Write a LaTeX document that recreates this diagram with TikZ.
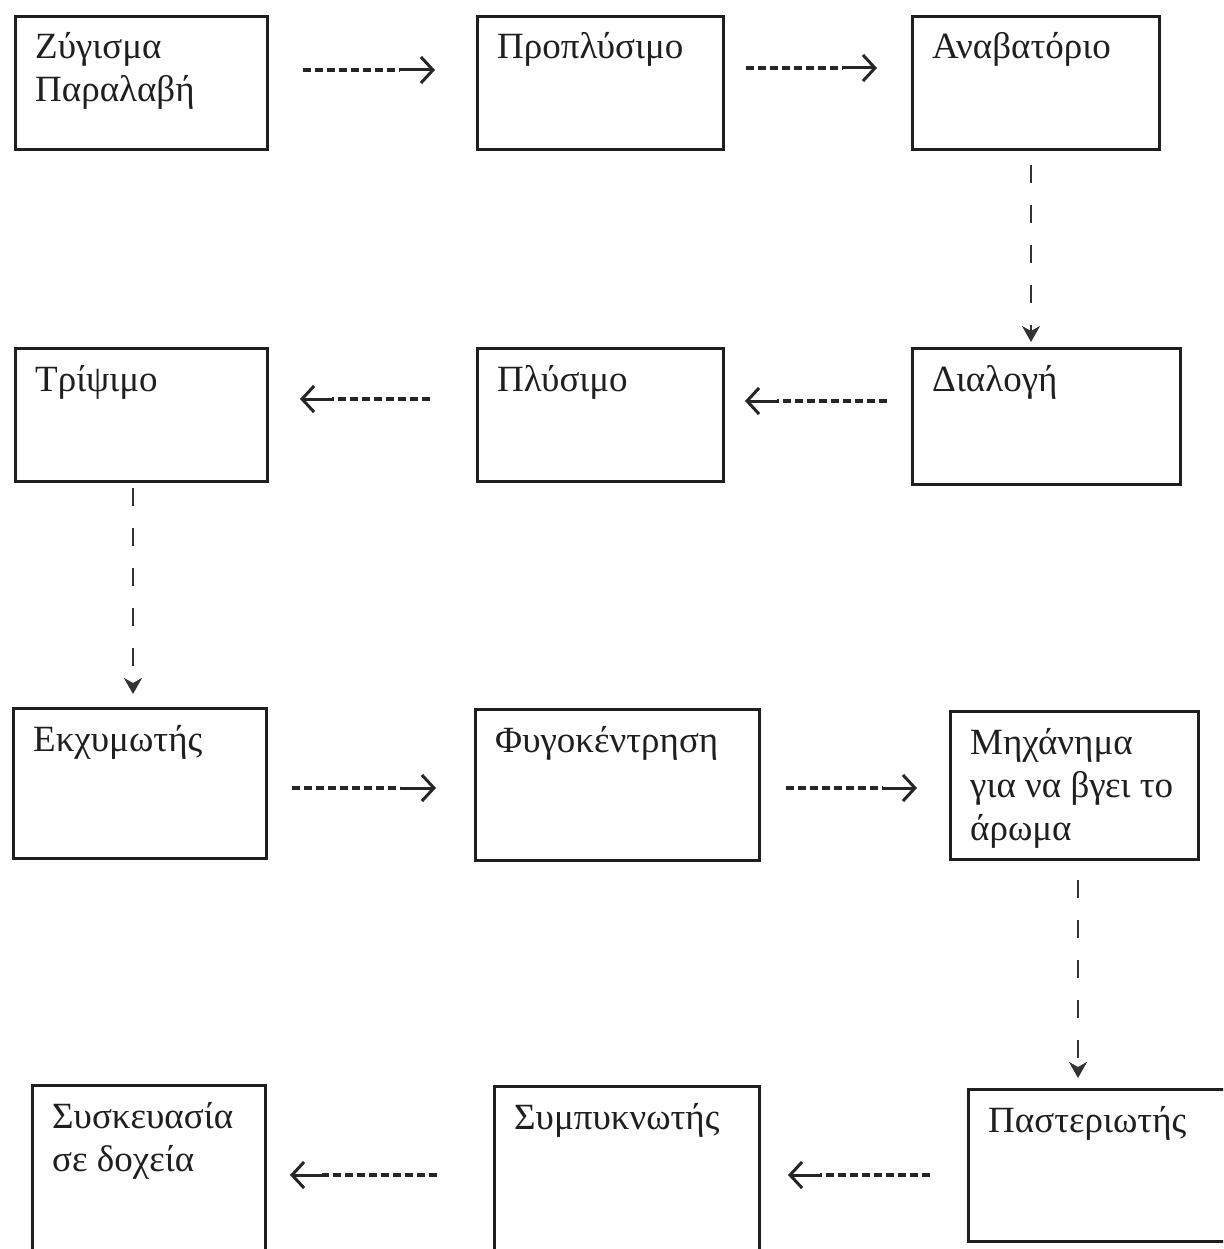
\documentclass[tikz,border=0pt]{standalone}
\usepackage{fontspec}
\setmainfont{Liberation Serif}
\usetikzlibrary{arrows.meta}
\tikzset{
  box/.style={draw=black!88, line width=2.8pt, rectangle, inner sep=0pt, anchor=north west},
  lbl/.style={anchor=base west, inner sep=0pt, text=black!88,
    font=\fontsize{37}{43}\selectfont},
  hdash/.style={draw=black!85, line width=3.6pt, dash pattern=on 8pt off 4pt},
  hhead/.style={draw=black!85, line width=3pt, -{Straight Barb[length=12pt,width=26pt]}},
  vdash/.style={draw=black!80, line width=2.2pt, dash pattern=on 18pt off 22pt,
    -{Stealth[length=16pt,width=18pt,inset=5pt]}},
}
\newcommand{\mybox}[6]{% name, x1, y1, x2, y2, text
  \node[box, minimum width=#4pt-#2pt, minimum height=#5pt-#3pt] (#1) at (#2,#3) {};
  \node[lbl] (#1t) at ([shift={(21pt,-44pt)}]#1.north west)
    {\parbox[t]{300pt}{\raggedright #6}};
}
\begin{document}
\begin{tikzpicture}[x=1pt,y=-1pt]
\useasboundingbox[fill=white] (0,0) rectangle (1223,1249);
\clip (0,0) rectangle (1223,1249);
% row 1
\mybox{b1}{14}{15}{266}{148}{Ζύγισμα\\Παραλαβή}
\mybox{b2}{476}{15}{722}{148}{Προπλύσιμο}
\mybox{b3}{911}{15}{1158}{148}{Αναβατόριο}
% row 2
\mybox{b6}{14}{347}{266}{480}{Τρίψιμο}
\mybox{b5}{476}{347}{722}{480}{Πλύσιμο}
\mybox{b4}{911}{347}{1179}{483}{Διαλογή}
% row 3
\mybox{b7}{12}{707}{265}{857}{Εκχυμωτής}
\mybox{b8}{474}{708}{758}{859}{Φυγοκέντρηση}
\mybox{b9}{949}{710}{1197}{858}{Μηχάνημα\\για να βγει το\\άρωμα}
% row 4
\mybox{b12}{31}{1084}{264}{1300}{Συσκευασία\\σε δοχεία}
\mybox{b11}{493}{1085}{758}{1300}{Συμπυκνωτής}
\mybox{b10}{967}{1088}{1240}{1240}{Παστεριωτής}

% horizontal arrow coordinates
\coordinate (h1s) at (303,70);  \coordinate (h1m) at (400,70);  \coordinate (h1e) at (435,70);
\coordinate (h2s) at (746,68);  \coordinate (h2m) at (843,68);  \coordinate (h2e) at (877,68);
\coordinate (h3s) at (430,399); \coordinate (h3m) at (332,399); \coordinate (h3e) at (300,399);
\coordinate (h4s) at (887,401); \coordinate (h4m) at (777,401); \coordinate (h4e) at (745,401);
\coordinate (h5s) at (292,788); \coordinate (h5m) at (400,788); \coordinate (h5e) at (436,788);
\coordinate (h6s) at (786,788); \coordinate (h6m) at (883,788); \coordinate (h6e) at (917,788);
\coordinate (h7s) at (437,1175); \coordinate (h7m) at (322,1175); \coordinate (h7e) at (290,1175);
\coordinate (h8s) at (930,1175); \coordinate (h8m) at (820,1175); \coordinate (h8e) at (788,1175);
\foreach \i in {1,...,8}{
  \draw[hdash] (h\i s) -- (h\i m);
  \draw[hhead] (h\i m) -- (h\i e);
}
% vertical arrows
\coordinate (v1s) at (1031,165); \coordinate (v1e) at (1031,342);
\coordinate (v2s) at (133,488);  \coordinate (v2e) at (133,694);
\coordinate (v3s) at (1078,880); \coordinate (v3e) at (1078,1078);
\draw[vdash] (v1s) -- (v1e);
\draw[vdash] (v2s) -- (v2e);
\draw[vdash] (v3s) -- (v3e);
\end{tikzpicture}
\end{document}
